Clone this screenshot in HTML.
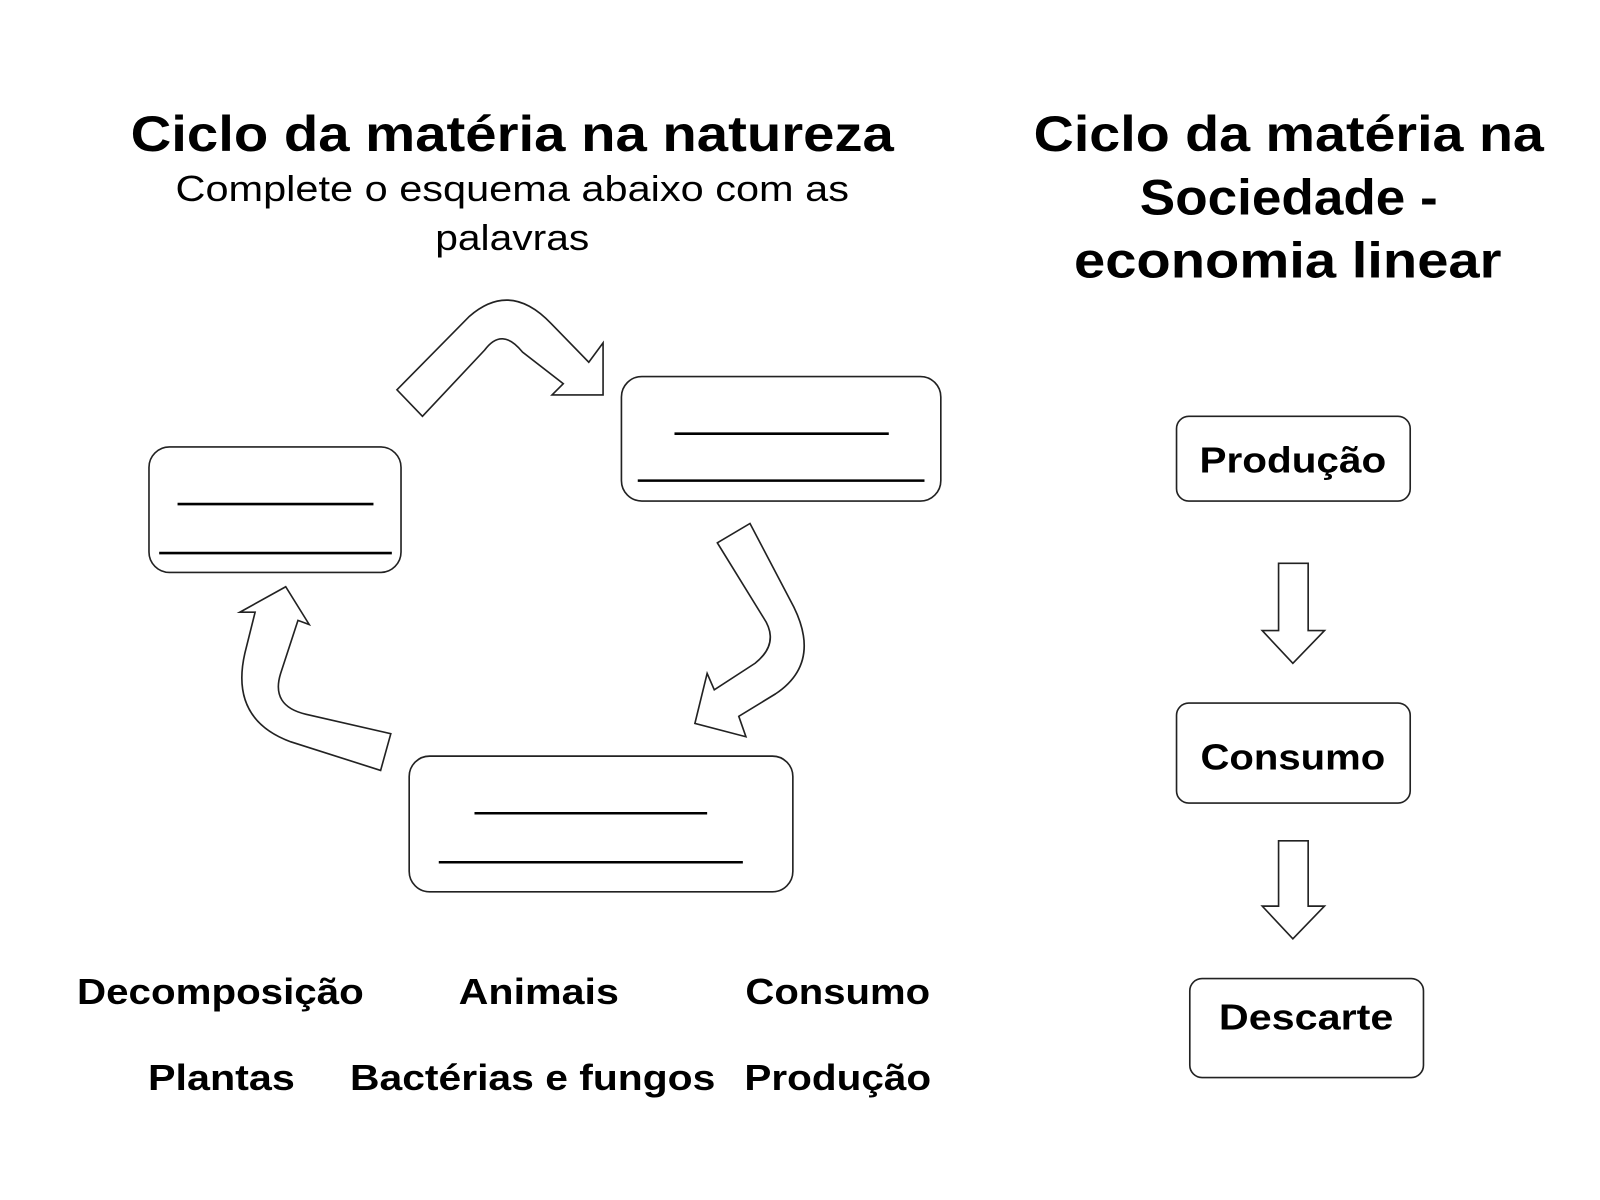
<!DOCTYPE html>
<html><head><meta charset="utf-8"><style>
html,body{margin:0;padding:0;background:#fff;}
svg{display:block;}
text{font-family:"Liberation Sans","DejaVu Sans",sans-serif;fill:#000;}
.b{font-weight:bold;}
</style></head><body>
<svg width="1600" height="1200" viewBox="0 0 1568 1176" xmlns="http://www.w3.org/2000/svg">
<rect width="1568" height="1176" fill="#fff"/>
<text x="502" y="148" font-size="49" class="b" text-anchor="middle" textLength="748" lengthAdjust="spacingAndGlyphs">Ciclo da matéria na natureza</text>
<text x="502" y="197" font-size="35" text-anchor="middle" textLength="660" lengthAdjust="spacingAndGlyphs">Complete o esquema abaixo com as</text>
<text x="502" y="245" font-size="35" text-anchor="middle" textLength="151" lengthAdjust="spacingAndGlyphs">palavras</text>
<text x="1263" y="148" font-size="49" class="b" text-anchor="middle" textLength="500" lengthAdjust="spacingAndGlyphs">Ciclo da matéria na</text>
<text x="1263" y="210" font-size="49" class="b" text-anchor="middle" textLength="292" lengthAdjust="spacingAndGlyphs">Sociedade -</text>
<text x="1262" y="272" font-size="49" class="b" text-anchor="middle" textLength="419" lengthAdjust="spacingAndGlyphs">economia linear</text>

<g fill="#fff" stroke="#222" stroke-width="1.6">
<rect x="146" y="438" width="247" height="123" rx="20"/>
<rect x="609" y="369" width="313" height="122" rx="20"/>
<rect x="401" y="741" width="376" height="133" rx="20"/>
<rect x="1153" y="408" width="229" height="83" rx="12"/>
<rect x="1153" y="689" width="229" height="98" rx="12"/>
<rect x="1166" y="959" width="229" height="97" rx="12"/>
<path d="M1253,552 H1282 V618 H1298 L1267,650 L1237,618 H1253 Z"/>
<path d="M1253,824 H1282 V888 H1298 L1267,920 L1237,888 H1253 Z"/>
<path d="M389,382 L460,310 Q500,275 540,317 L577,355 L591,336 V387 H541 L552,376 L512,345 Q492,320 475,343 L414,408 Z"/>
<path d="M703,532 L735,513 L778,595 Q805,650 760,680 L724,702 L731,722 L681,709 L693,660 L700,676 L740,650 Q765,630 748,605 Z"/>
<path d="M383,719 L373,755 L285,727 Q225,705 240,640 L250,600 L235,600 L280,575 L303,612 L292,608 L275,660 Q265,692 300,700 Z"/>
</g>
<g stroke="#000" stroke-width="2.5">
<line x1="174" y1="494" x2="366" y2="494"/><line x1="156" y1="542" x2="384" y2="542"/>
<line x1="661" y1="425" x2="871" y2="425"/><line x1="625" y1="471" x2="906" y2="471"/>
<line x1="465" y1="797" x2="693" y2="797"/><line x1="430" y1="845" x2="728" y2="845"/>
</g>
<g font-size="35" class="b" text-anchor="middle">
<text x="1267" y="463" class="b" textLength="183" lengthAdjust="spacingAndGlyphs">Produção</text>
<text x="1267" y="754" class="b" textLength="181" lengthAdjust="spacingAndGlyphs">Consumo</text>
<text x="1280" y="1009" class="b" textLength="171" lengthAdjust="spacingAndGlyphs">Descarte</text>
<text x="216" y="984" class="b" textLength="281" lengthAdjust="spacingAndGlyphs">Decomposição</text>
<text x="528" y="984" class="b" textLength="157" lengthAdjust="spacingAndGlyphs">Animais</text>
<text x="821" y="984" class="b" textLength="181" lengthAdjust="spacingAndGlyphs">Consumo</text>
<text x="217" y="1068" class="b" textLength="144" lengthAdjust="spacingAndGlyphs">Plantas</text>
<text x="522" y="1068" class="b" textLength="358" lengthAdjust="spacingAndGlyphs">Bactérias e fungos</text>
<text x="821" y="1068" class="b" textLength="183" lengthAdjust="spacingAndGlyphs">Produção</text>
</g>
</svg>
</body></html>
